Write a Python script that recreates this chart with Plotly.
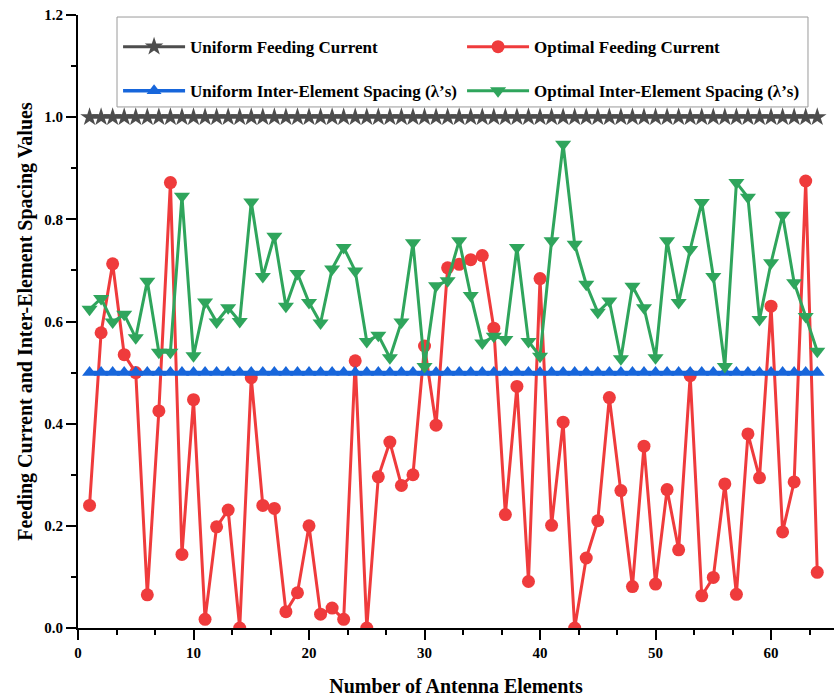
import plotly.graph_objects as go

# ---------------- data ----------------
elements = list(range(1, 65))

uniform_current = [1.0] * 64
uniform_spacing = [0.5] * 64

optimal_current = [
    0.240, 0.578, 0.713, 0.535, 0.500, 0.065, 0.425, 0.872, 0.144, 0.447,
    0.017, 0.198, 0.231, 0.000, 0.490, 0.240, 0.234, 0.032, 0.069, 0.200,
    0.027, 0.039, 0.017, 0.523, 0.000, 0.296, 0.364, 0.279, 0.300, 0.552,
    0.397, 0.705, 0.712, 0.721, 0.729, 0.587, 0.222, 0.473, 0.091, 0.684,
    0.201, 0.403, 0.000, 0.137, 0.210, 0.451, 0.269, 0.081, 0.356, 0.086,
    0.271, 0.153, 0.494, 0.063, 0.099, 0.282, 0.066, 0.380, 0.294, 0.630,
    0.188, 0.286, 0.875, 0.109,
]

optimal_spacing = [
    0.624, 0.645, 0.599, 0.614, 0.568, 0.679, 0.540, 0.540, 0.845, 0.533,
    0.638, 0.599, 0.627, 0.600, 0.834, 0.688, 0.767, 0.630, 0.694, 0.637,
    0.597, 0.703, 0.745, 0.699, 0.561, 0.573, 0.529, 0.599, 0.754, 0.512,
    0.670, 0.680, 0.758, 0.651, 0.558, 0.571, 0.565, 0.745, 0.561, 0.532,
    0.758, 0.947, 0.751, 0.673, 0.618, 0.640, 0.527, 0.669, 0.627, 0.529,
    0.758, 0.637, 0.741, 0.833, 0.688, 0.512, 0.872, 0.843, 0.604, 0.715,
    0.808, 0.676, 0.610, 0.542,
]

x_ticks = [0, 10, 20, 30, 40, 50, 60]
y_ticks = [0.0, 0.2, 0.4, 0.6, 0.8, 1.0, 1.2]

names = [
    "Uniform Feeding Current",
    "Optimal Feeding Current",
    "Uniform Inter-Element Spacing (\u03bb\u2019s)",
    "Optimal Inter-Element Spacing (\u03bb\u2019s)",
]

GRAY = "#4d4d4d"
RED = "#ef3b3c"
BLUE = "#1766db"
GREEN = "#2fa55c"
FONT = "Liberation Serif"

fig = go.Figure()

fig.add_trace(go.Scatter(
    x=elements, y=uniform_current, name=names[0], mode="lines+markers",
    line=dict(color=GRAY, width=3),
    marker=dict(symbol="star", size=14, color=GRAY),
    legend="legend", legendgroup="g1",
))
fig.add_trace(go.Scatter(
    x=elements, y=optimal_current, name=names[1], mode="lines+markers",
    line=dict(color=RED, width=3),
    marker=dict(symbol="circle", size=13, color=RED),
    legend="legend2", legendgroup="g2",
))
fig.add_trace(go.Scatter(
    x=elements, y=uniform_spacing, name=names[2], mode="lines+markers",
    line=dict(color=BLUE, width=3.5),
    marker=dict(symbol="triangle-up", size=13, color=BLUE),
    legend="legend", legendgroup="g3",
))
fig.add_trace(go.Scatter(
    x=elements, y=optimal_spacing, name=names[3], mode="lines+markers",
    line=dict(color=GREEN, width=3),
    marker=dict(symbol="triangle-down", size=14, color=GREEN),
    legend="legend2", legendgroup="g4",
))

XR = [0, 65.45]
YR = [0, 1.2]
tickfont = dict(family=FONT, size=15, color="black", weight="bold")
titlefont = dict(family=FONT, size=20, color="black", weight="bold")
legfont = dict(family=FONT, size=17, color="black", weight="bold")

fig.update_layout(
    width=834, height=699,
    margin=dict(l=78, r=0, t=15, b=71),
    paper_bgcolor="white", plot_bgcolor="white",
    font=dict(family=FONT, color="black"),
    xaxis=dict(
        range=XR, tickvals=x_ticks, ticks="outside", ticklen=10, tickwidth=2,
        tickcolor="black", showline=True, linewidth=2, linecolor="black",
        showgrid=False, zeroline=False, tickfont=tickfont,
        minor=dict(dtick=10 / 3, tick0=0, ticks="outside", ticklen=5,
                   tickwidth=2, tickcolor="black", showgrid=False),
        title=dict(text="Number of Antenna Elements", font=titlefont, standoff=19),
    ),
    yaxis=dict(
        range=YR, tickvals=y_ticks, tickformat=".1f", ticks="outside", ticklen=10,
        tickwidth=2, tickcolor="black", showline=True, linewidth=2,
        linecolor="black", showgrid=False, zeroline=False, tickfont=tickfont,
        minor=dict(dtick=0.1, tick0=0, ticks="outside", ticklen=5,
                   tickwidth=2, tickcolor="black", showgrid=False),
        title=dict(text="Feeding Current and Inter-Element Spacing Values",
                   font=titlefont, standoff=6),
    ),
    xaxis2=dict(
        overlaying="x", side="top", anchor="y", range=XR, tickvals=x_ticks,
        ticks="inside", ticklen=8, tickwidth=2, tickcolor="black",
        showticklabels=False, showline=True, linewidth=2, linecolor="black",
        showgrid=False, zeroline=False,
        minor=dict(dtick=10 / 3, tick0=0, ticks="inside", ticklen=4,
                   tickwidth=2, tickcolor="black", showgrid=False),
    ),
    yaxis2=dict(
        overlaying="y", side="right", anchor="x", range=YR, tickvals=y_ticks,
        ticks="inside", ticklen=10, tickwidth=2, tickcolor="black",
        showticklabels=False, showline=False, showgrid=False, zeroline=False,
        minor=dict(dtick=0.1, tick0=0, ticks="inside", ticklen=5,
                   tickwidth=2, tickcolor="black", showgrid=False),
    ),
    legend=dict(
        x=0.053, y=0.977, xanchor="left", yanchor="top",
        bgcolor="rgba(0,0,0,0)", borderwidth=0, font=legfont,
        itemwidth=62, tracegroupgap=19, orientation="v",
    ),
    legend2=dict(
        x=0.508, y=0.977, xanchor="left", yanchor="top",
        bgcolor="rgba(0,0,0,0)", borderwidth=0, font=legfont,
        itemwidth=62, tracegroupgap=19, orientation="v",
    ),
    shapes=[dict(
        type="rect", xref="paper", yref="paper",
        x0=0.0516, x1=0.9656, y0=0.85, y1=0.9967,
        line=dict(color="#9a9a9a", width=1), fillcolor="rgba(0,0,0,0)",
        layer="above",
    )],
    showlegend=True,
)

fig.write_html("out.html")
